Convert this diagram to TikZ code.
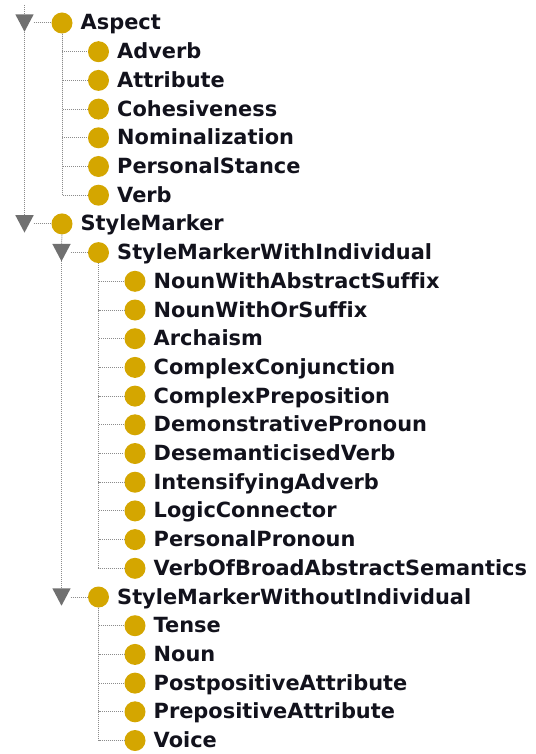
\documentclass[tikz,border=0pt]{standalone}
\usepackage{fontspec}
\setmainfont[Ligatures=NoCommon]{DejaVu Sans}
\definecolor{classgold}{RGB}{212,166,0}
\definecolor{twistygray}{RGB}{112,112,112}
\definecolor{guidegray}{RGB}{140,140,140}
\definecolor{labelink}{RGB}{18,18,28}
\tikzset{
  cls/.style={circle, fill=classgold, minimum size=21pt, inner sep=0pt},
  lbl/.style={anchor=base west, inner sep=0pt, text=labelink,
              font=\bfseries\fontsize{20.9}{22}\selectfont},
  twbox/.style={rectangle, minimum width=18pt, minimum height=17pt, inner sep=0pt},
  guide/.style={draw=guidegray, line width=1pt, dash pattern=on 1pt off 1pt},
}
% one class row: node name, x of the bullet, row number, label
\newcommand\clsrow[4]{%
  \node[cls] (#1) at (#2, {23+28.7*#3}) {};
  \node[lbl] (#1-l) at ([xshift=18.5pt, yshift=-7pt]#1.center) {#4};}
% expand/collapse marker: node name, x, row number
\newcommand\twisty[3]{%
  \node[twbox] (#1) at (#2, {23+28.7*#3}) {};
  \fill[twistygray] (#1.north west) -- (#1.north east) -- (#1.south) -- cycle;}
\begin{document}
\begin{tikzpicture}[x=1pt, y=-1pt]
\useasboundingbox (0,0) rectangle (535,754);

% top level
\twisty{aspect-tw}{24.5}{0}
\clsrow{aspect}{62}{0}{Aspect}
\clsrow{adverb}{98.5}{1}{Adverb}
\clsrow{attribute}{98.5}{2}{Attribute}
\clsrow{cohesiveness}{98.5}{3}{Cohesiveness}
\clsrow{nominalization}{98.5}{4}{Nominalization}
\clsrow{personalstance}{98.5}{5}{PersonalStance}
\clsrow{verb}{98.5}{6}{Verb}

\twisty{stylemarker-tw}{24.5}{7}
\clsrow{stylemarker}{62}{7}{StyleMarker}

\twisty{smwi-tw}{61.5}{8}
\clsrow{smwi}{98.5}{8}{StyleMarkerWithIndividual}
\clsrow{nwas}{135}{9}{NounWithAbstractSuffix}
\clsrow{nwos}{135}{10}{NounWithOrSuffix}
\clsrow{archaism}{135}{11}{Archaism}
\clsrow{compconj}{135}{12}{ComplexConjunction}
\clsrow{compprep}{135}{13}{ComplexPreposition}
\clsrow{dempron}{135}{14}{DemonstrativePronoun}
\clsrow{desverb}{135}{15}{DesemanticisedVerb}
\clsrow{intadv}{135}{16}{IntensifyingAdverb}
\clsrow{logconn}{135}{17}{LogicConnector}
\clsrow{perspron}{135}{18}{PersonalPronoun}
\clsrow{vobas}{135}{19}{VerbOfBroadAbstractSemantics}

\twisty{smwoi-tw}{61.5}{20}
\clsrow{smwoi}{98.5}{20}{StyleMarkerWithoutIndividual}
\clsrow{tense}{135}{21}{Tense}
\clsrow{noun}{135}{22}{Noun}
\clsrow{postattr}{135}{23}{PostpositiveAttribute}
\clsrow{preattr}{135}{24}{PrepositiveAttribute}
\clsrow{voice}{135}{25}{Voice}

% tree guides
\coordinate (rootstub) at (24.5,5);
\draw[guide] (rootstub) -- (aspect-tw.north);
\draw[guide] (aspect-tw.south) -- (stylemarker-tw.north);
\draw[guide] (aspect-tw.east) -- (aspect);
\draw[guide] (stylemarker-tw.east) -- (stylemarker);

\foreach \c in {adverb,attribute,cohesiveness,nominalization,personalstance,verb}
  \draw[guide] (aspect.south) |- (\c);

\draw[guide] (stylemarker.south) -- (smwi-tw.north);
\draw[guide] (smwi-tw.south) -- (smwoi-tw.north);
\draw[guide] (smwi-tw.east) -- (smwi);
\draw[guide] (smwoi-tw.east) -- (smwoi);

\foreach \c in {nwas,nwos,archaism,compconj,compprep,dempron,desverb,intadv,logconn,perspron,vobas}
  \draw[guide] (smwi.south) |- (\c);
\foreach \c in {tense,noun,postattr,preattr,voice}
  \draw[guide] (smwoi.south) |- (\c);
\end{tikzpicture}
\end{document}
